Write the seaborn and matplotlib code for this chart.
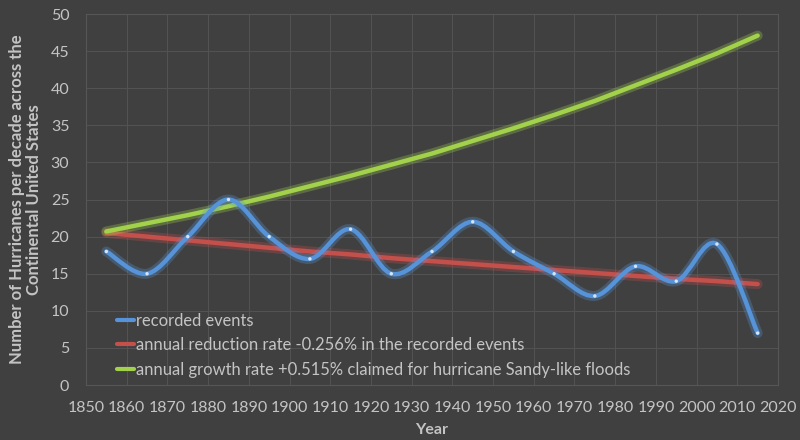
import numpy as np
import pandas as pd
import matplotlib
matplotlib.use("Agg")
import matplotlib.pyplot as plt
import matplotlib.patheffects as pe
from matplotlib.path import Path
from matplotlib.patches import PathPatch
from matplotlib.lines import Line2D
import seaborn as sns

# decade mid-points
years = [1855, 1865, 1875, 1885, 1895, 1905, 1915, 1925, 1935, 1945,
         1955, 1965, 1975, 1985, 1995, 2005, 2015]
# recorded hurricanes per decade
recorded = [18, 15, 20, 25, 20, 17, 21, 15, 18, 22, 18, 15, 12, 16, 14, 19, 7]
# trend
reduction = [20.5, 20.0, 19.5, 19.0, 18.5, 18.0, 17.6, 17.1, 16.7, 16.3,
             15.9, 15.5, 15.1, 14.7, 14.3, 14.0, 13.6]
# claimed growth
growth = [20.7, 21.8, 22.9, 24.1, 25.4, 26.8, 28.2, 29.7, 31.2, 32.9,
          34.6, 36.4, 38.3, 40.4, 42.5, 44.7, 47.1]

labels = ["recorded events",
          "annual reduction rate -0.256% in the recorded events",
          "annual growth rate +0.515% claimed for hurricane Sandy-like floods"]

bg = "#404040"
grid_c = "#525252"
text_c = "#c4c4c4"
blue = "#5693d8"
red = "#c4504c"
green = "#a2d24c"

sns.set_style("dark", {"axes.facecolor": bg, "figure.facecolor": bg})
plt.rcParams["font.family"] = ["Lato", "DejaVu Sans"]

df = pd.DataFrame({"year": years, "recorded": recorded,
                   "reduction": reduction, "growth": growth})

fig = plt.figure(figsize=(8, 4.4), dpi=100)
ax = fig.add_axes([0.1075, 0.125, 0.865, 0.843])
ax.set_facecolor(bg)


def glow(c, w):
    return [pe.Stroke(linewidth=w + 4, foreground=c, alpha=0.3), pe.Normal()]


lw = 3.2
sns.lineplot(data=df, x="year", y="reduction", ax=ax, color=red, lw=lw,
             solid_capstyle="round", path_effects=glow(red, lw), zorder=3)
sns.lineplot(data=df, x="year", y="growth", ax=ax, color=green, lw=lw,
             solid_capstyle="round", path_effects=glow(green, lw), zorder=4)

# smoothed recorded events (excel-like bezier)
pts = np.column_stack([years, recorded]).astype(float)
ext = np.vstack([pts[0], pts, pts[-1]])
verts = [pts[0]]
codes = [Path.MOVETO]
for i in range(len(pts) - 1):
    p0, p1, p2, p3 = ext[i], ext[i + 1], ext[i + 2], ext[i + 3]
    verts += [p1 + (p2 - p0) / 6, p2 - (p3 - p1) / 6, p2]
    codes += [Path.CURVE4] * 3
patch = PathPatch(Path(verts, codes), facecolor="none", edgecolor=blue, lw=lw,
                  capstyle="round", path_effects=glow(blue, lw), zorder=5)
ax.add_patch(patch)
sns.scatterplot(data=df, x="year", y="recorded", ax=ax, color="#d5e6f8",
                s=6, edgecolor="none", zorder=6)

ax.set_xlim(1850, 2020)
ax.set_ylim(0, 50)
ax.set_xticks(range(1850, 2021, 10))
ax.set_yticks(range(0, 51, 5))
ax.grid(True, color=grid_c, lw=0.8)
for s in ax.spines.values():
    s.set_visible(True)
    s.set_color("#565656")
    s.set_linewidth(0.8)
ax.tick_params(colors=text_c, labelsize=11.5, length=0)
ax.tick_params(axis="x", pad=11.5)
ax.tick_params(axis="y", pad=12)
ax.set_xlabel("Year", color=text_c, fontsize=11.5, fontweight="bold", labelpad=6)
ax.set_ylabel("Number of Hurricanes per decade across the\nContinental United States",
              color=text_c, fontsize=12, fontweight="bold", labelpad=6,
              linespacing=1.1)

handles = [Line2D([], [], color=c, lw=3) for c in (blue, red, green)]
ax.legend(handles, labels, loc="lower left", bbox_to_anchor=(0.024, -0.02),
          frameon=False, labelcolor=text_c, fontsize=11.9, handlelength=1.0,
          handletextpad=0.1, labelspacing=0.5)

fig.savefig("out.png", dpi=100, facecolor=bg)
